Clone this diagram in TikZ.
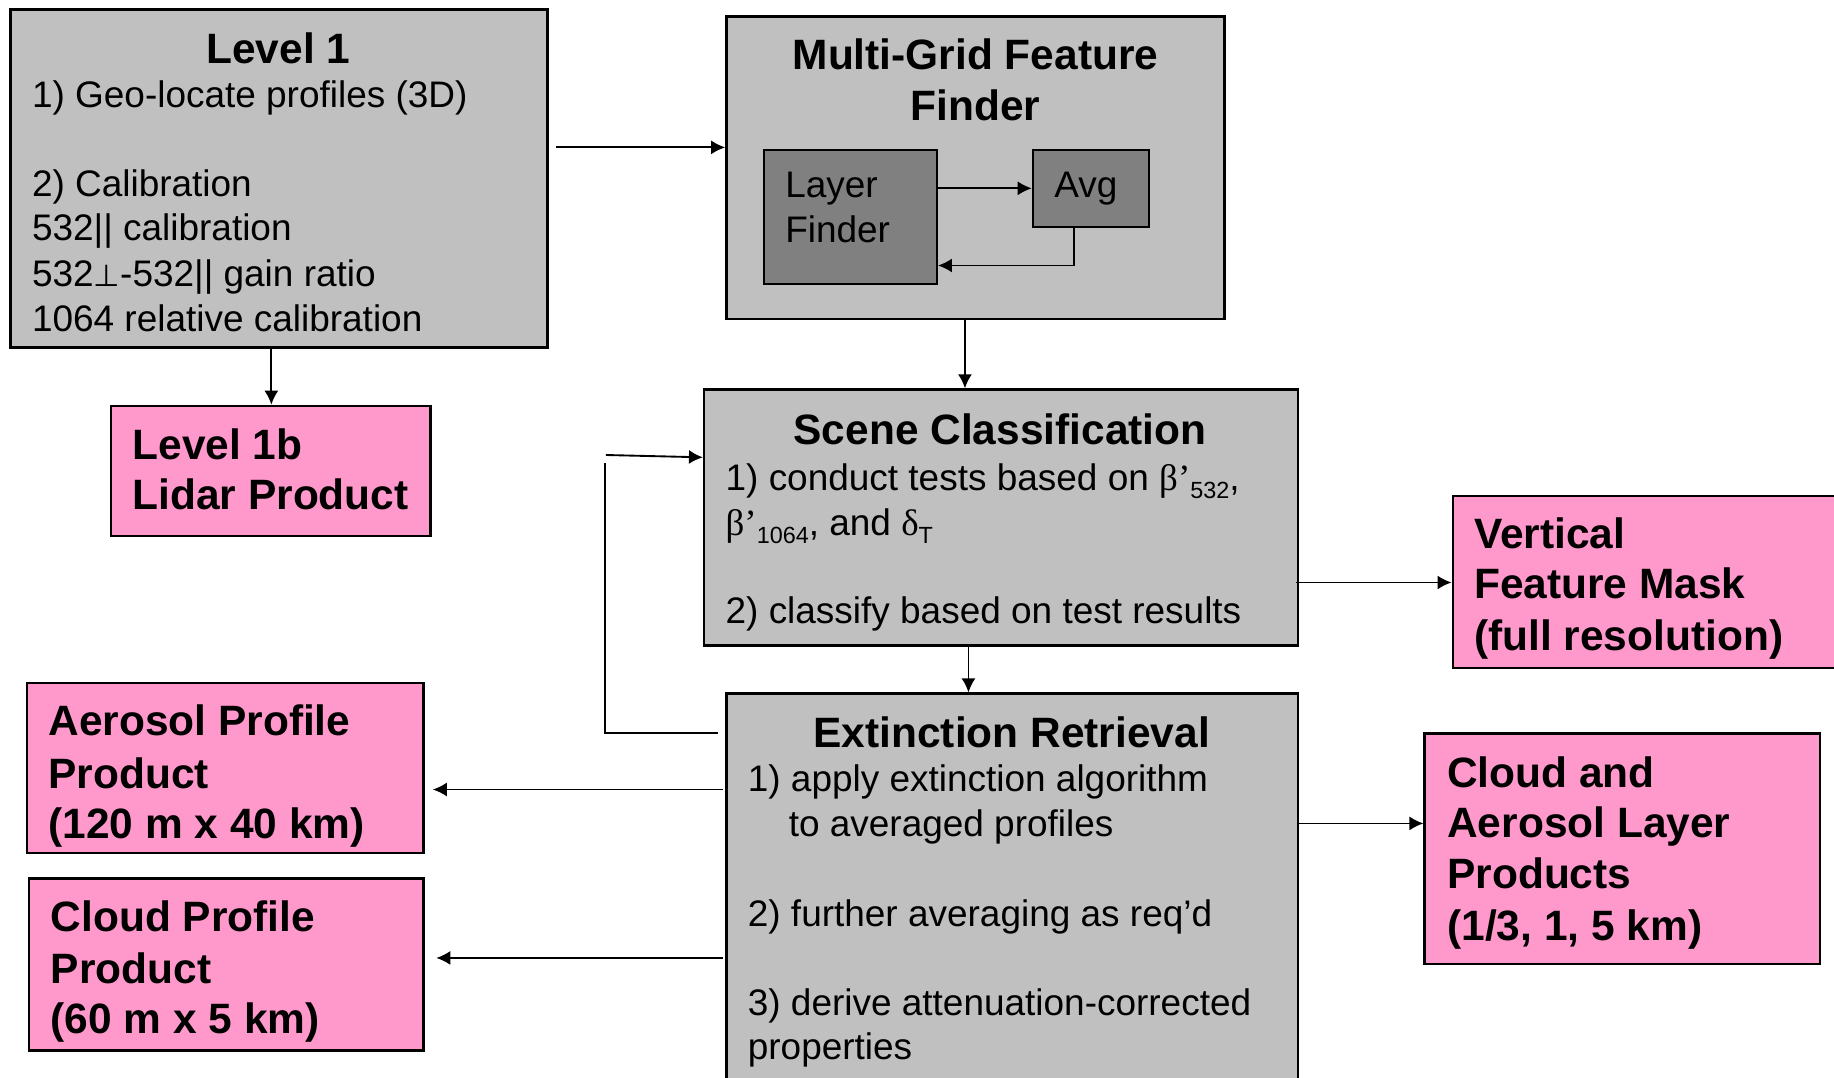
\documentclass[tikz,border=0pt]{standalone}
\usepackage{fontspec}
\setmainfont{Liberation Sans}
\newfontfamily\serifgr{Liberation Serif}
\newfontfamily\dejavu{DejaVu Sans}
\usetikzlibrary{arrows.meta,fit}
\definecolor{boxgray}{HTML}{C0C0C0}
\definecolor{darkgray}{HTML}{808080}
\definecolor{pinkbox}{HTML}{FF99CC}
\newcommand\bodyfont{\fontsize{15.8}{19.25}\selectfont}
\newcommand\headfont{\fontsize{18.15}{21.8}\selectfont\bfseries}
\newcommand\subsc[1]{\raisebox{-0.22em}{\fontsize{10}{12}\selectfont #1}}
\tikzset{
  gbox/.style={draw=black, line width=1pt, fill=boxgray, inner sep=0pt},
  dbox/.style={draw=black, line width=0.9pt, fill=darkgray, inner sep=0pt},
  pbox/.style={draw=black, line width=1pt, fill=pinkbox, inner sep=0pt},
  body/.style={inner sep=0pt, anchor=base west, font=\bodyfont},
  head/.style={inner sep=0pt, anchor=base, font=\headfont},
  phead/.style={inner sep=0pt, anchor=base west, font=\headfont},
  arr/.style={-{Latex[length=6pt,width=6pt]}, line width=0.8pt},
  plain/.style={line width=0.8pt}
}
\begin{document}
\begin{tikzpicture}[x=0.5pt,y=-0.5pt]
\clip (0,0) rectangle (1568,921);
\fill[white] (0,0) rectangle (1568,921);
% boxes
\node[gbox, fit={(9,8) (468,297)}] (l1) {};
\node[gbox, fit={(621,14) (1047,273)}] (mg) {};
\node[dbox, fit={(653,128) (801,243)}] (lf) {};
\node[dbox, fit={(883,128) (982,194)}] (avg) {};
\node[pbox, fit={(95,347) (368,458)}] (l1b) {};
\node[gbox, fit={(602,333) (1110,552)}] (sc) {};
\node[pbox, fit={(1242,424) (1600,571)}] (vfm) {};
\node[gbox, fit={(621,593) (1110,960)}] (er) {};
\node[pbox, fit={(23,584) (362,729)}] (app) {};
\node[pbox, fit={(25,751) (362,898)}] (cpp) {};
\node[pbox, fit={(1218,627) (1556,824)}] (calp) {};
% Level 1 text
\node[head] (l1h) at (238,54) {Level 1};
\node[body] (l1a) at (27,92) {1) Geo-locate profiles (3D)};
\node[body] (l1b1) at (27,168) {2) Calibration};
\node[body] (l1c) at (27,206) {532|| calibration};
\node[body] (l1d) at (27,245) {532{\dejavu\fontsize{13}{15}\selectfont ⊥}-532|| gain ratio};
\node[body] (l1e) at (27,283) {1064 relative calibration};
% Multi-grid
\node[head] (mgh1) at (834,59) {Multi-Grid Feature};
\node[head] (mgh2) at (834,103) {Finder};
\node[body] (lft1) at (671,169) {Layer};
\node[body] (lft2) at (671,207) {Finder};
\node[body] (avgt) at (901,169) {Avg};
% Level 1b
\node[phead] (l1bt1) at (113,393) {Level 1b};
\node[phead] (l1bt2) at (113,436) {Lidar Product};
% Scene classification
\node[head] (sch) at (855,380) {Scene Classification};
\node[body] (sca) at (620,419) {1) conduct tests based on {\serifgr β’}\subsc{532},};
\node[body] (scb) at (620,458) {{\serifgr β’}\subsc{1064}, and {\serifgr δ}\subsc{T}};
\node[body] (scc) at (620,533) {2) classify based on test results};
% VFM
\node[phead] (vfm1) at (1260,469) {Vertical};
\node[phead] (vfm2) at (1260,512) {Feature Mask};
\node[phead] (vfm3) at (1260,556) {(full resolution)};
% Extinction
\node[head] (erh) at (865,639) {Extinction Retrieval};
\node[body] (era) at (639,677) {1) apply extinction algorithm};
\node[body] (erb) at (674,715) {to averaged profiles};
\node[body] (erc) at (639,792) {2) further averaging as req’d};
\node[body] (erd) at (639,868) {3) derive attenuation-corrected};
\node[body] (ere) at (639,906) {properties};
% Aerosol profile
\node[phead] (app1) at (41,629) {Aerosol Profile};
\node[phead] (app2) at (41,674) {Product};
\node[phead] (app3) at (41,717) {(120 m x 40 km)};
% Cloud profile
\node[phead] (cpp1) at (43,796) {Cloud Profile};
\node[phead] (cpp2) at (43,841) {Product};
\node[phead] (cpp3) at (43,884) {(60 m x 5 km)};
% CALP
\node[phead] (calp1) at (1237,673) {Cloud and};
\node[phead] (calp2) at (1237,716) {Aerosol Layer};
\node[phead] (calp3) at (1237,760) {Products};
\node[phead] (calp4) at (1237,804) {(1/3, 1, 5 km)};
% connectors
\draw[arr] ([xshift=3pt]l1.east |- 0,126) -- (mg.west |- 0,126);
\draw[arr] (l1.south -| 232,0) -- (l1b.north -| 232,0);
\draw[arr] (lf.east |- 0,161) -- (avg.west |- 0,161);
\draw[arr] (avg.south -| 918,0) |- (lf.east |- 0,227);
\draw[arr] (mg.south -| 825,0) -- (sc.north -| 825,0);
\draw[arr] ([xshift=-1.5pt]sc.east |- 0,498) -- (vfm.west |- 0,498);
\draw[arr] (sc.south -| 828,0) -- (er.north -| 828,0);
\coordinate (fbA) at (517,627);
\coordinate (fbB) at (517,396);
\coordinate (fbC) at (518,389);
\draw[plain] ([xshift=-3pt]er.west |- fbA) -- (fbA) -- (fbB);
\draw[arr] (fbC) -- (sc.west |- 0,391);
\draw[arr, shorten >=3.5pt] ([xshift=-1pt]er.west |- 0,675) -- (app.east |- 0,675);
\draw[arr, shorten >=5pt] ([xshift=-1pt]er.west |- 0,819) -- (cpp.east |- 0,819);
\draw[arr] (er.east |- 0,704) -- (calp.west |- 0,704);
\end{tikzpicture}
\end{document}
